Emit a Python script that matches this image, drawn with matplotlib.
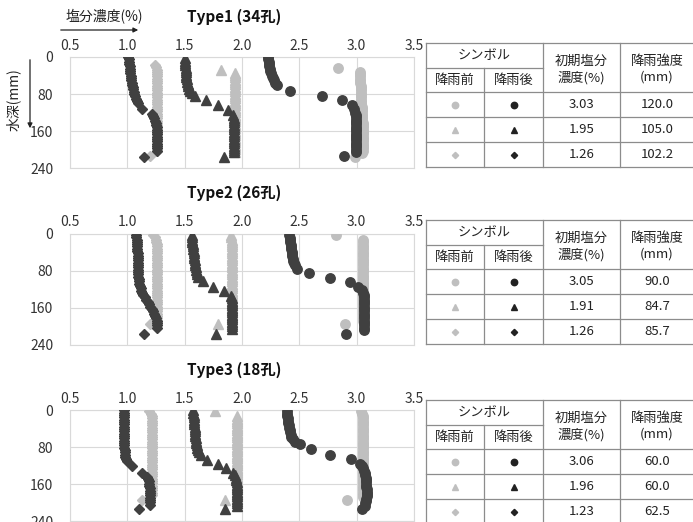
import numpy as np
import matplotlib.pyplot as plt

plt.rcParams['font.family'] = ['Noto Sans CJK JP', 'DejaVu Sans']

# ---------------- data ----------------
titles = ['Type1 (34孔)', 'Type2 (26孔)', 'Type3 (18孔)']
init_conc = [[3.03, 1.95, 1.26], [3.05, 1.91, 1.26], [3.06, 1.96, 1.23]]
rain_mm = [[120.0, 105.0, 102.2], [90.0, 84.7, 85.7], [60.0, 60.0, 62.5]]

# Type1  (depth mm, salt %)
c1_after_d = [0, 5, 10, 15, 20, 25, 30, 35, 40, 45, 50, 55, 61, 73, 84, 93, 104, 112, 120,
              125, 130, 135, 140, 145, 150, 155, 160, 165, 170, 175, 180, 185, 190, 195, 200, 205, 214]
c1_after_v = [2.229, 2.23, 2.232, 2.235, 2.238, 2.242, 2.246, 2.252, 2.258, 2.266, 2.278, 2.29, 2.305,
              2.418, 2.70, 2.869, 2.956, 2.976, 2.986,
              2.99, 2.992, 2.993, 2.994, 2.994, 2.994, 2.994, 2.994, 2.994, 2.994, 2.993, 2.993, 2.992,
              2.992, 2.99, 2.99, 2.99, 2.89]
c1_before_d = [23, 32, 37, 42, 47, 52, 57, 62, 67, 72, 77, 82, 87, 92, 97, 102, 107, 112, 117, 122, 127,
               132, 137, 142, 147, 152, 157, 162, 167, 172, 177, 182, 187, 192, 197, 202, 207, 215]
c1_before_v = [2.84, 3.03, 3.03, 3.03, 3.031, 3.032, 3.033, 3.034, 3.035, 3.036, 3.037, 3.038, 3.04,
               3.04, 3.041, 3.042, 3.043, 3.044, 3.045, 3.046, 3.047, 3.048, 3.05, 3.051, 3.052, 3.053,
               3.054, 3.055, 3.055, 3.055, 3.055, 3.055, 3.055, 3.054, 3.053, 3.052, 3.05, 2.985]
t1_after_d = [3, 8, 13, 18, 23, 28, 33, 38, 43, 48, 53, 58, 63, 68, 73, 78, 84, 93, 104, 115, 126,
              131, 136, 141, 146, 151, 156, 161, 166, 171, 176, 181, 186, 191, 196, 201, 205, 215]
t1_after_v = [1.50, 1.502, 1.505, 1.506, 1.508, 1.509, 1.51, 1.512, 1.515, 1.518, 1.523, 1.526, 1.53,
              1.537, 1.548, 1.565, 1.59, 1.686, 1.793, 1.88, 1.924,
              1.928, 1.93, 1.931, 1.932, 1.933, 1.933, 1.933, 1.933, 1.933, 1.933, 1.933, 1.933, 1.933,
              1.933, 1.933, 1.933, 1.843]
t1_before_d = [27, 34, 39, 44, 49, 54, 59, 64, 69, 74, 79, 84, 89, 94, 99, 104, 109, 114, 119, 124,
               129, 134, 139, 144, 149, 154, 159, 164, 169, 174, 179, 184, 189, 194, 199, 204]
t1_before_v = [1.814, 1.94, 1.94, 1.94, 1.94, 1.94, 1.94, 1.94, 1.94, 1.94, 1.94, 1.94, 1.94, 1.94,
               1.94, 1.94, 1.94, 1.94, 1.94, 1.94, 1.94, 1.94, 1.94, 1.94, 1.94, 1.94, 1.94, 1.94,
               1.94, 1.94, 1.94, 1.94, 1.94, 1.94, 1.94, 1.94]
d1_after_d = [0, 5, 10, 15, 20, 25, 30, 35, 40, 45, 50, 55, 60, 65, 70, 75, 80, 85, 90, 95, 100, 113, 122,
              127, 132, 137, 142, 147, 152, 157, 162, 167, 172, 177, 182, 187, 192, 197, 202, 215]
d1_after_v = [1.009, 1.012, 1.015, 1.017, 1.02, 1.022, 1.025, 1.027, 1.03, 1.033, 1.036, 1.039, 1.042,
              1.046, 1.05, 1.054, 1.058, 1.064, 1.072, 1.08, 1.09, 1.131, 1.212,
              1.226, 1.235, 1.243, 1.25, 1.254, 1.258, 1.26, 1.261, 1.262, 1.262, 1.262, 1.262, 1.261,
              1.26, 1.258, 1.256, 1.148]
d1_before_d = [17, 22, 27, 32, 37, 42, 47, 52, 57, 62, 67, 72, 77, 82, 87, 92, 97, 102, 107, 112, 117,
               122, 127, 132, 137, 142, 147, 152, 157, 162, 167, 172, 177, 182, 187, 192, 197, 202, 214]
d1_before_v = [1.241, 1.25, 1.255, 1.258, 1.26, 1.262, 1.262, 1.262, 1.262, 1.262, 1.262, 1.262, 1.262,
               1.262, 1.262, 1.262, 1.262, 1.262, 1.262, 1.262, 1.262, 1.262, 1.262, 1.262, 1.262, 1.262,
               1.262, 1.262, 1.262, 1.262, 1.262, 1.262, 1.262, 1.262, 1.262, 1.262, 1.262, 1.262, 1.198]

# Type2
c2_after_d = [4, 9, 14, 19, 24, 29, 34, 39, 44, 49, 54, 59, 64, 69, 76, 85, 96, 105, 116, 122,
              128, 133, 138, 143, 148, 153, 158, 163, 168, 173, 178, 183, 188, 193, 198, 203, 208, 216]
c2_after_v = [2.413, 2.416, 2.419, 2.421, 2.424, 2.427, 2.43, 2.433, 2.436, 2.439, 2.442, 2.447, 2.453,
              2.462, 2.477, 2.587, 2.767, 2.942, 3.014, 3.045,
              3.058, 3.06, 3.06, 3.06, 3.06, 3.06, 3.06, 3.06, 3.06, 3.06, 3.06, 3.06, 3.06, 3.06, 3.06,
              3.06, 3.06, 2.907]
c2_before_d = [4, 14, 19, 24, 29, 34, 39, 44, 49, 54, 59, 64, 69, 74, 79, 84, 89, 94, 99, 104, 109,
               114, 119, 124, 129, 134, 139, 144, 149, 154, 159, 164, 169, 174, 179, 184, 189, 196]
c2_before_v = [2.82, 3.052, 3.054, 3.055, 3.055, 3.055, 3.055, 3.055, 3.055, 3.055, 3.055, 3.055, 3.055,
               3.055, 3.055, 3.055, 3.055, 3.055, 3.055, 3.055, 3.055, 3.055, 3.055, 3.055, 3.055, 3.055,
               3.055, 3.055, 3.055, 3.055, 3.055, 3.055, 3.055, 3.055, 3.055, 3.055, 3.055, 2.90]
t2_after_d = [3, 8, 13, 18, 23, 28, 33, 38, 43, 48, 53, 58, 63, 68, 73, 78, 83, 88, 93, 103, 116, 124, 135,
              140, 145, 150, 155, 160, 165, 170, 175, 180, 185, 190, 195, 200, 205, 216]
t2_after_v = [1.561, 1.564, 1.567, 1.568, 1.57, 1.573, 1.576, 1.578, 1.581, 1.582, 1.584, 1.587, 1.59,
              1.593, 1.596, 1.60, 1.605, 1.611, 1.619, 1.663, 1.744, 1.843, 1.904,
              1.91, 1.914, 1.916, 1.916, 1.916, 1.916, 1.916, 1.916, 1.916, 1.916, 1.916, 1.916, 1.916,
              1.916, 1.773]
t2_before_d = [3, 8, 13, 18, 23, 28, 33, 38, 43, 48, 53, 58, 63, 68, 73, 78, 83, 88, 93, 98, 103, 108,
               113, 118, 123, 128, 133, 138, 143, 148, 153, 158, 163, 168, 173, 178, 183, 188, 196]
t2_before_v = [1.901, 1.907, 1.913, 1.913, 1.913, 1.913, 1.913, 1.913, 1.913, 1.913, 1.913, 1.913, 1.913,
               1.913, 1.913, 1.913, 1.913, 1.913, 1.913, 1.913, 1.913, 1.913, 1.913, 1.913, 1.913, 1.913,
               1.913, 1.913, 1.913, 1.913, 1.913, 1.913, 1.913, 1.913, 1.913, 1.913, 1.913, 1.913, 1.788]
d2_after_d = [3, 8, 13, 18, 23, 28, 33, 38, 43, 48, 53, 58, 63, 68, 73, 78, 83, 88, 93, 98, 103, 108,
              113, 118, 123, 128, 133, 138, 143, 148, 153, 158, 163, 168, 173, 178, 183, 188, 193, 198,
              203, 216]
d2_after_v = [1.076, 1.079, 1.081, 1.083, 1.084, 1.086, 1.087, 1.088, 1.09, 1.09, 1.09, 1.09, 1.09,
              1.09, 1.09, 1.091, 1.093, 1.094, 1.096, 1.099, 1.102, 1.106, 1.11, 1.116, 1.122, 1.13,
              1.14, 1.151, 1.163, 1.176, 1.189, 1.202, 1.215, 1.226, 1.235, 1.243, 1.25, 1.255, 1.259,
              1.261, 1.262, 1.148]
d2_before_d = [3, 8, 13, 18, 23, 28, 33, 38, 43, 48, 53, 58, 63, 68, 73, 78, 83, 88, 93, 98, 103, 108,
               113, 118, 123, 128, 133, 138, 143, 148, 153, 158, 163, 168, 173, 178, 183, 188, 196]
d2_before_v = [1.227, 1.24, 1.25, 1.254, 1.256, 1.256, 1.256, 1.256, 1.256, 1.256, 1.256, 1.256, 1.256,
               1.256, 1.256, 1.256, 1.256, 1.256, 1.256, 1.256, 1.256, 1.256, 1.256, 1.256, 1.256, 1.256,
               1.256, 1.256, 1.256, 1.256, 1.256, 1.256, 1.256, 1.256, 1.256, 1.256, 1.256, 1.256, 1.198]

# Type3
c3_after_d = [3, 8, 13, 18, 23, 28, 33, 38, 43, 48, 53, 58, 63, 68, 74, 85, 96, 105, 116, 121,
              126, 131, 136, 141, 146, 151, 156, 161, 166, 171, 176, 181, 186, 191, 196, 201, 206, 214]
c3_after_v = [2.39, 2.392, 2.395, 2.398, 2.401, 2.404, 2.407, 2.411, 2.416, 2.42, 2.424, 2.43, 2.442,
              2.46, 2.506, 2.602, 2.768, 2.948, 3.029, 3.045,
              3.058, 3.066, 3.073, 3.076, 3.078, 3.08, 3.081, 3.083, 3.084, 3.086, 3.087, 3.087, 3.087,
              3.085, 3.081, 3.077, 3.073, 3.044]
c3_before_d = [3, 8, 13, 18, 23, 28, 33, 38, 43, 48, 53, 58, 63, 68, 73, 78, 83, 88, 93, 98, 103, 108,
               113, 118, 123, 128, 133, 138, 143, 148, 153, 158, 163, 168, 173, 178, 183, 188, 194]
c3_before_v = [3.038, 3.05, 3.058, 3.058, 3.058, 3.058, 3.058, 3.058, 3.058, 3.058, 3.058, 3.058, 3.058,
               3.058, 3.058, 3.058, 3.058, 3.058, 3.058, 3.058, 3.058, 3.058, 3.058, 3.058, 3.058, 3.058,
               3.058, 3.058, 3.058, 3.058, 3.058, 3.058, 3.058, 3.058, 3.058, 3.058, 3.058, 3.058, 2.919]
t3_after_d = [1, 6, 11, 16, 21, 26, 31, 36, 41, 46, 51, 56, 61, 66, 71, 76, 81, 86, 91, 98, 107, 116, 125,
              136, 141, 146, 151, 156, 161, 166, 171, 176, 181, 186, 191, 196, 201, 206, 214]
t3_after_v = [1.576, 1.577, 1.578, 1.58, 1.581, 1.583, 1.584, 1.586, 1.587, 1.589, 1.59, 1.593, 1.596,
              1.599, 1.602, 1.606, 1.61, 1.617, 1.625, 1.64, 1.698, 1.788, 1.857,
              1.924, 1.94, 1.948, 1.951, 1.953, 1.953, 1.953, 1.953, 1.953, 1.953, 1.953, 1.953, 1.953,
              1.953, 1.953, 1.852]
t3_before_d = [3, 14, 19, 24, 29, 34, 39, 44, 49, 54, 59, 64, 69, 74, 79, 84, 89, 94, 99, 104, 109,
               114, 119, 124, 129, 134, 139, 144, 149, 154, 159, 164, 169, 174, 179, 184, 189, 194]
t3_before_v = [1.767, 1.953, 1.953, 1.953, 1.953, 1.953, 1.953, 1.953, 1.953, 1.953, 1.953, 1.953,
               1.953, 1.953, 1.953, 1.953, 1.953, 1.953, 1.953, 1.953, 1.953, 1.953, 1.953, 1.953,
               1.953, 1.953, 1.953, 1.953, 1.953, 1.953, 1.953, 1.953, 1.953, 1.953, 1.953, 1.953,
               1.953, 1.852]
d3_after_d = [1, 6, 11, 16, 21, 26, 31, 36, 41, 46, 51, 56, 61, 66, 71, 76, 81, 86, 91, 96, 101, 106,
              111, 121, 135, 144, 149, 154, 159, 164, 169, 174, 179, 184, 189, 194, 199, 204, 214]
d3_after_v = [0.971, 0.971, 0.971, 0.972, 0.973, 0.974, 0.974, 0.974, 0.974, 0.974, 0.974, 0.974,
              0.974, 0.974, 0.974, 0.974, 0.975, 0.976, 0.977, 0.979, 0.983, 0.99, 1.0, 1.038, 1.125,
              1.169, 1.18, 1.186, 1.19, 1.192, 1.195, 1.198, 1.198, 1.198, 1.198, 1.198, 1.198, 1.198,
              1.102]
d3_before_d = [3, 8, 13, 18, 23, 28, 33, 38, 43, 48, 53, 58, 63, 68, 73, 78, 83, 88, 93, 98, 103, 108,
               113, 118, 123, 128, 133, 138, 143, 148, 153, 158, 163, 168, 173, 178, 183, 193]
d3_before_v = [1.192, 1.205, 1.212, 1.216, 1.218, 1.218, 1.218, 1.218, 1.218, 1.218, 1.218, 1.218,
               1.218, 1.218, 1.218, 1.218, 1.218, 1.218, 1.218, 1.218, 1.218, 1.218, 1.218, 1.218,
               1.218, 1.218, 1.218, 1.218, 1.218, 1.218, 1.218, 1.218, 1.218, 1.218, 1.218, 1.218,
               1.218, 1.131]

series = [
    [(c1_before_d, c1_before_v, c1_after_d, c1_after_v),
     (t1_before_d, t1_before_v, t1_after_d, t1_after_v),
     (d1_before_d, d1_before_v, d1_after_d, d1_after_v)],
    [(c2_before_d, c2_before_v, c2_after_d, c2_after_v),
     (t2_before_d, t2_before_v, t2_after_d, t2_after_v),
     (d2_before_d, d2_before_v, d2_after_d, d2_after_v)],
    [(c3_before_d, c3_before_v, c3_after_d, c3_after_v),
     (t3_before_d, t3_before_v, t3_after_d, t3_after_v),
     (d3_before_d, d3_before_v, d3_after_d, d3_after_v)],
]

LIGHT = '#bfbfbf'
DARK = '#404040'
markers = ['o', '^', 'D']
msizes = [6.8, 6.8, 4.6]
tab_msizes = [4.6, 4.8, 3.2]

W, H = 693, 522
fig = plt.figure(figsize=(W / 100, H / 100), dpi=100)

# pixel-coordinate overlay for labels and tables
bg = fig.add_axes([0, 0, 1, 1], zorder=0)
bg.set_xlim(0, W)
bg.set_ylim(H, 0)
bg.axis('off')

ax_tops = [57, 233.5, 410]
ax_h = 111.3
ax_left, ax_right = 70, 414
tab_tops = [43, 220, 400]
title_y = [17, 193, 370]

for k in range(3):
    top = ax_tops[k]
    ax = fig.add_axes([ax_left / W, 1 - (top + ax_h) / H, (ax_right - ax_left) / W, ax_h / H], zorder=2)
    ax.patch.set_alpha(0)
    for m, ms, (bd, bv, ad, av) in zip(markers, msizes, series[k]):
        ax.plot(bv, bd, ls='none', marker=m, ms=ms, color=LIGHT, mec=LIGHT, zorder=3)
        ax.plot(av, ad, ls='none', marker=m, ms=ms, color=DARK, mec=DARK, zorder=4)
    ax.set_xlim(0.5, 3.5)
    ax.set_ylim(240, 0)
    ax.set_xticks(np.arange(0.5, 3.51, 0.5))
    ax.set_xticklabels(['%.1f' % v for v in np.arange(0.5, 3.51, 0.5)])
    ax.set_yticks([0, 80, 160, 240])
    ax.xaxis.tick_top()
    ax.tick_params(axis='both', length=0, labelsize=10, colors='#333333')
    ax.tick_params(axis='y', pad=12)
    ax.tick_params(axis='x', pad=3)
    ax.grid(color='#d9d9d9', lw=0.8, zorder=0)
    ax.set_axisbelow(True)
    for s in ax.spines.values():
        s.set_color('#d9d9d9')
        s.set_linewidth(0.8)

    bg.text(234, title_y[k], titles[k], ha='center', va='center', fontsize=11, fontweight='bold', color='#111111')

    # table
    t0 = tab_tops[k]
    xs = [425.5, 484, 543, 620, 694]
    mid = t0 + 25
    hb = t0 + 49
    rows = [hb, hb + 25, hb + 50, hb + 75]
    lc = '#8c8c8c'
    lw = 0.9
    bg.plot([xs[0], xs[-1]], [t0, t0], color=lc, lw=lw)
    bg.plot([xs[0], xs[2]], [mid, mid], color=lc, lw=lw)
    for y in rows:
        bg.plot([xs[0], xs[-1]], [y, y], color=lc, lw=lw)
    bg.plot([xs[0], xs[0]], [t0, rows[-1]], color=lc, lw=lw)
    bg.plot([xs[1], xs[1]], [mid, rows[-1]], color=lc, lw=lw)
    bg.plot([xs[2], xs[2]], [t0, rows[-1]], color=lc, lw=lw)
    bg.plot([xs[3], xs[3]], [t0, rows[-1]], color=lc, lw=lw)
    fs = 9.5
    tc = '#222222'
    cx = [(xs[i] + xs[i + 1]) / 2 for i in range(4)]
    bg.text((xs[0] + xs[2]) / 2, t0 + 12.5, 'シンボル', ha='center', va='center', fontsize=fs, color=tc)
    bg.text(cx[0], t0 + 37.5, '降雨前', ha='center', va='center', fontsize=fs, color=tc)
    bg.text(cx[1], t0 + 37.5, '降雨後', ha='center', va='center', fontsize=fs, color=tc)
    bg.text(cx[2], t0 + 18.5, '初期塩分', ha='center', va='center', fontsize=fs, color=tc)
    bg.text(cx[2], t0 + 34.5, '濃度(%)', ha='center', va='center', fontsize=fs, color=tc)
    bg.text(cx[3], t0 + 18.5, '降雨強度', ha='center', va='center', fontsize=fs, color=tc)
    bg.text(cx[3], t0 + 34.5, '(mm)', ha='center', va='center', fontsize=fs, color=tc)
    for i in range(3):
        yc = hb + 12.5 + 25 * i
        bg.plot([cx[0]], [yc], ls='none', marker=markers[i], ms=tab_msizes[i], color=LIGHT)
        bg.plot([cx[1]], [yc], ls='none', marker=markers[i], ms=tab_msizes[i], color='#222222')
        bg.text(cx[2], yc, '%.2f' % init_conc[k][i], ha='center', va='center', fontsize=fs, color=tc)
        bg.text(cx[3], yc, '%.1f' % rain_mm[k][i], ha='center', va='center', fontsize=fs, color=tc)

# axis captions with arrows
bg.text(104, 17, '塩分濃度(%)', ha='center', va='center', fontsize=10, color='#222222')
bg.annotate('', xy=(141, 30), xytext=(58, 30),
            arrowprops=dict(arrowstyle='-|>', color='#222222', lw=0.9, mutation_scale=7))
bg.text(13, 100, '水深(mm)', ha='center', va='center', rotation=90, fontsize=10, color='#222222')
bg.annotate('', xy=(30, 131), xytext=(30, 57),
            arrowprops=dict(arrowstyle='-|>', color='#222222', lw=0.9, mutation_scale=7))

fig.savefig('out.png', dpi=100)
